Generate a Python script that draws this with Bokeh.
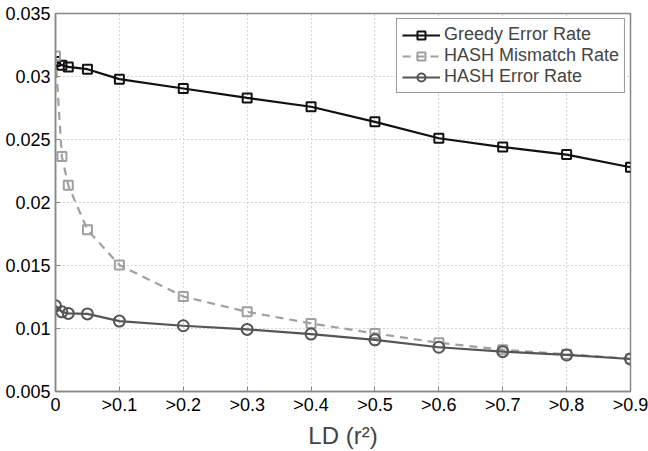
from bokeh.plotting import figure
from bokeh.models import Range1d, FixedTicker, Legend, LegendItem
from bokeh.embed import file_html
from bokeh.resources import INLINE

ld = [0.0, 0.01, 0.02, 0.05, 0.1, 0.2, 0.3, 0.4, 0.5, 0.6, 0.7, 0.8, 0.9]
greedy_error = [0.0312, 0.0309, 0.03076, 0.03058, 0.02979, 0.02905, 0.0283, 0.0276, 0.0264, 0.0251, 0.0244, 0.0238, 0.0228]
hash_mismatch = [0.03163, 0.02365, 0.02136, 0.01783, 0.01504, 0.01254, 0.01132, 0.0104, 0.00961, 0.00887, 0.00832, 0.00796, 0.0076]
hash_error = [0.0118, 0.01132, 0.0112, 0.01116, 0.01059, 0.01022, 0.00993, 0.00956, 0.0091, 0.00851, 0.00816, 0.0079, 0.00758]
x_ticks = [0, 0.1, 0.2, 0.3, 0.4, 0.5, 0.6, 0.7, 0.8, 0.9]
x_tick_labels = ["0", ">0.1", ">0.2", ">0.3", ">0.4", ">0.5", ">0.6", ">0.7", ">0.8", ">0.9"]
y_ticks = [0.005, 0.01, 0.015, 0.02, 0.025, 0.03, 0.035]
y_tick_labels = ["0.005", "0.01", "0.015", "0.02", "0.025", "0.03", "0.035"]

FONT = "Liberation Sans"

p = figure(width=648, height=451, output_backend="svg", toolbar_location=None,
           x_range=Range1d(0, 0.9), y_range=Range1d(0.005, 0.035),
           min_border_left=55, min_border_right=18, min_border_top=13, min_border_bottom=58)
p.background_fill_color = "white"
p.outline_line_color = "#888888"
p.outline_line_width = 1.5

for ax in (p.xaxis[0], p.yaxis[0]):
    ax.axis_line_color = "#888888"
    ax.axis_line_width = 1.5
    ax.major_tick_in = 5
    ax.major_tick_out = 0
    ax.minor_tick_line_color = None
    ax.major_tick_line_color = "#888888"
    ax.major_label_text_font = FONT
    ax.major_label_text_font_size = "18px"
    ax.major_label_text_color = "black"

p.xaxis[0].ticker = FixedTicker(ticks=x_ticks)
p.xaxis[0].major_label_overrides = {t: l for t, l in zip(x_ticks, x_tick_labels)}
p.xaxis[0].major_label_standoff = 3
p.yaxis[0].ticker = FixedTicker(ticks=y_ticks)
p.yaxis[0].major_label_overrides = {t: l for t, l in zip(y_ticks, y_tick_labels)}
p.yaxis[0].major_label_standoff = 5

p.xaxis[0].axis_label = "LD (r\u00b2)"
p.xaxis[0].axis_label_text_font = FONT
p.xaxis[0].axis_label_text_font_size = "24px"
p.xaxis[0].axis_label_text_font_style = "normal"
p.xaxis[0].axis_label_standoff = 4

p.grid.grid_line_color = "#aaaaaa"
p.grid.grid_line_dash = "1 3"
p.grid.grid_line_width = 1

c_greedy = "#111111"
c_mis = "#a0a0a0"
c_err = "#555555"

l1 = p.line(ld, greedy_error, line_color=c_greedy, line_width=2.2)
m1 = p.scatter(ld, greedy_error, marker="square", size=9, fill_color=None, line_color=c_greedy, line_width=2)
l2 = p.line(ld, hash_mismatch, line_color=c_mis, line_width=2.2, line_dash="8 6")
m2 = p.scatter(ld, hash_mismatch, marker="square", size=9, fill_color=None, line_color=c_mis, line_width=2)
l3 = p.line(ld, hash_error, line_color=c_err, line_width=2.2)
m3 = p.scatter(ld, hash_error, marker="circle", size=11, fill_color=None, line_color=c_err, line_width=2)

legend = Legend(items=[
    LegendItem(label="Greedy Error Rate", renderers=[l1, m1]),
    LegendItem(label="HASH Mismatch Rate", renderers=[l2, m2]),
    LegendItem(label="HASH Error Rate", renderers=[l3, m3]),
], location="top_right")
legend.label_text_font = FONT
legend.label_text_font_size = "18px"
legend.border_line_color = "#333333"
legend.border_line_width = 1
legend.background_fill_color = "white"
legend.background_fill_alpha = 1
legend.margin = 5
legend.padding = 5
legend.spacing = 0
legend.glyph_width = 38
legend.glyph_height = 20
legend.label_height = 20
legend.label_standoff = 4
p.add_layout(legend)

open("out.html", "w").write(file_html(p, INLINE))
